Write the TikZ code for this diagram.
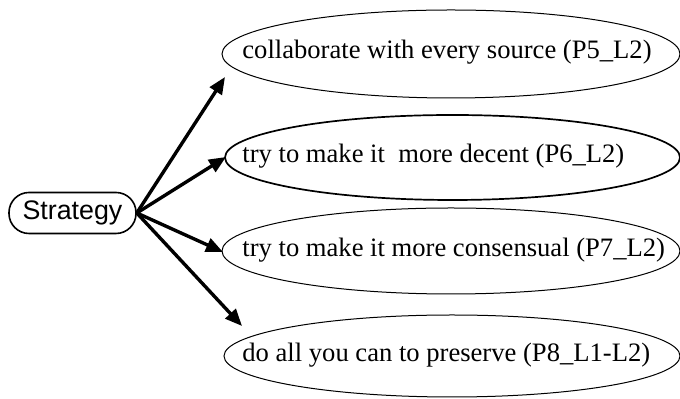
\documentclass[tikz,border=0pt]{standalone}
\usepackage{fontspec}
\setmainfont{Liberation Serif}
\newfontfamily\labelsans{Liberation Sans}
\usetikzlibrary{shapes.geometric,arrows.meta}
\tikzset{
  root/.style={draw, rounded corners=10pt, line width=0.8pt, minimum width=63.5pt,
    minimum height=20.5pt, inner sep=0pt, font=\labelsans\fontsize{13.4}{15}\selectfont},
  leaf/.style={draw, ellipse, line width=0.5pt, inner sep=0pt},
  leaftext/.style={anchor=west, inner sep=0pt, font=\fontsize{13.3}{15}\selectfont},
  link/.style={line width=1.7pt, -{Triangle[length=8.5pt,width=7pt]}}
}
\begin{document}
\begin{tikzpicture}[x=0.5pt,y=-0.5pt]
  \useasboundingbox (0,0) rectangle (680,399);

  % root node
  \node[root] (s) at (72.5,213) {Strategy};

  % outline ellipses
  \node[leaf, minimum width=229pt, minimum height=44pt] (e1) at (451,54) {};
  \node[leaf, line width=0.85pt, minimum width=227.5pt, minimum height=42.5pt] (e2) at (452.5,157.5) {};
  \node[leaf, minimum width=229pt, minimum height=43pt] (e3) at (451,251) {};
  \node[leaf, minimum width=228pt, minimum height=41pt] (e4) at (452,356) {};

  % ellipse labels
  \node[leaftext] (t1) at (242,52) {collaborate with every source (P5\_L2)};
  \node[leaftext] (t2) at (242,156) {try to make it\ \ more decent (P6\_L2)};
  \node[leaftext] (t3) at (242,250) {try to make it more consensual (P7\_L2)};
  \node[leaftext] (t4) at (242,355) {do all you can to preserve (P8\_L1-L2)};

  % arrow ends
  \coordinate (a1) at (225,77);
  \coordinate (a2) at (226,157);
  \coordinate (a3) at (223,252);
  \coordinate (a4) at (242,326);

  \draw[link] (s.east) -- (a1);
  \draw[link] (s.east) -- (a2);
  \draw[link] (s.east) -- (a3);
  \draw[link] (s.east) -- (a4);
\end{tikzpicture}
\end{document}
